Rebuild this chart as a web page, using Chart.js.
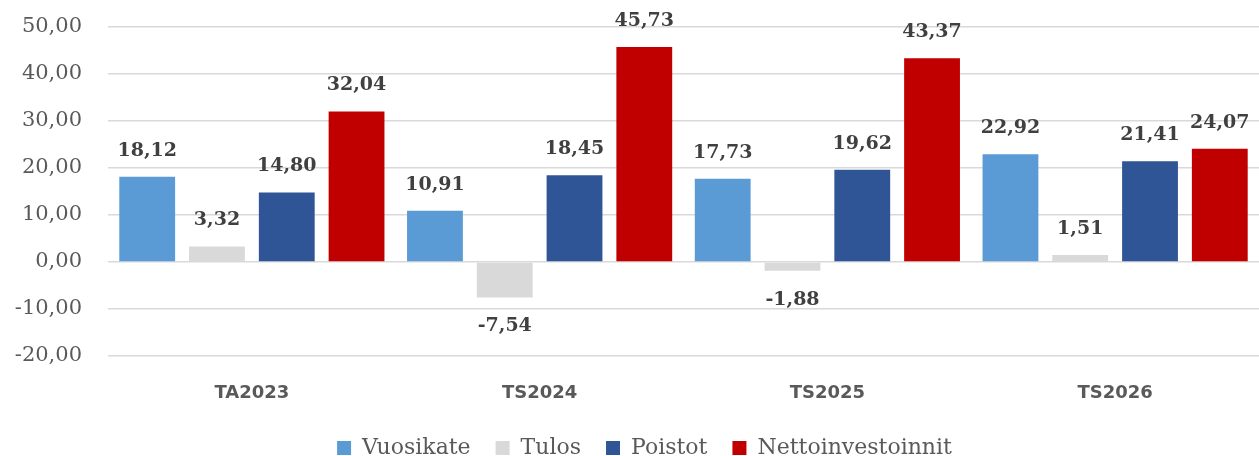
<!DOCTYPE html>
<html>
<head>
<meta charset="utf-8">
<script src="https://cdn.jsdelivr.net/npm/chart.js@4/dist/chart.umd.min.js"></script>
<style>
  html, body { margin: 0; padding: 0; background: #fff; }
  #wrap { width: 1259px; height: 456px; }
</style>
</head>
<body>
<div id="wrap"><canvas id="chartTalous"></canvas></div>
<script>
const vuodet = ['TA2023', 'TS2024', 'TS2025', 'TS2026'];
const vuosikate = [18.12, 10.91, 17.73, 22.92];
const tulos = [3.32, -7.54, -1.88, 1.51];
const poistot = [14.80, 18.45, 19.62, 21.41];
const nettoinvestoinnit = [32.04, 45.73, 43.37, 24.07];

function muotoile(arvo) {
    return arvo.toFixed(2).replace('.', ',');
}

// arvot pylväiden päälle (negatiiviset alle)
const arvoTekstit = {
    id: 'arvoTekstit',
    afterDatasetsDraw(chart) {
        const ctx = chart.ctx;
        ctx.save();
        ctx.font = 'bold 19px "DejaVu Serif"';
        ctx.fillStyle = '#404040';
        ctx.textAlign = 'center';
        ctx.textBaseline = 'middle';
        chart.data.datasets.forEach((ds, i) => {
            const meta = chart.getDatasetMeta(i);
            meta.data.forEach((bar, j) => {
                const arvo = ds.data[j];
                const y = arvo >= 0 ? bar.y - 26 : bar.y + 29;
                ctx.fillText(muotoile(arvo), bar.x, y);
            });
        });
        ctx.restore();
    }
};

// selite matalammaksi ja vähän oikealle
const seliteAlas = {
    id: 'seliteAlas',
    beforeInit(chart) {
        const legend = chart.legend;
        const fit = legend.fit;
        const draw = legend.draw;
        legend.fit = function () {
            fit.call(this);
            this.height -= 18;
        };
        legend.draw = function () {
            const alaReuna = this.bottom;
            this.bottom += 10; // ettei leikkaus katkaise tekstiä
            this.ctx.save();
            this.ctx.translate(15, -5);
            draw.call(this);
            this.ctx.restore();
            this.bottom = alaReuna;
        };
    }
};

const ctx = document.getElementById('chartTalous');

new Chart(ctx, {
    type: 'bar',
    data: {
        labels: vuodet,
        datasets: [{
            label: 'Vuosikate',
            data: vuosikate,
            backgroundColor: '#5B9BD5'
        }, {
            label: 'Tulos',
            data: tulos,
            backgroundColor: '#D9D9D9'
        }, {
            label: 'Poistot',
            data: poistot,
            backgroundColor: '#2F5597'
        }, {
            label: 'Nettoinvestoinnit',
            data: nettoinvestoinnit,
            backgroundColor: '#C00000'
        }]
    },
    plugins: [arvoTekstit, seliteAlas],
    options: {
        responsive: true,
        maintainAspectRatio: false,
        animation: false,
        categoryPercentage: 0.97,
        barPercentage: 0.8,
        layout: {
            padding: { top: 27, right: 0, left: 0, bottom: 0 }
        },
        plugins: {
            tooltip: { enabled: false },
            legend: {
                position: 'bottom',
                labels: {
                    boxWidth: 14,
                    boxHeight: 14,
                    padding: 25,
                    color: '#595959',
                    font: { family: 'DejaVu Serif', size: 22 }
                }
            }
        },
        scales: {
            x: {
                grid: { display: false, drawTicks: false },
                border: { display: false },
                ticks: {
                    padding: 27,
                    color: '#595959',
                    font: { family: 'DejaVu Sans', size: 18, weight: 'bold' }
                },
                afterFit(scale) {
                    scale.height = 61;
                }
            },
            y: {
                min: -20,
                max: 50,
                grid: { color: '#D9D9D9', lineWidth: 1.5, drawTicks: false },
                border: { display: false },
                ticks: {
                    stepSize: 10,
                    padding: 26,
                    color: '#595959',
                    font: { family: 'DejaVu Serif', size: 21 },
                    callback: (v) => muotoile(v)
                },
                afterFit(scale) {
                    scale.width = 108;
                    scale.paddingTop = 0;
                    scale.paddingBottom = 0;
                }
            }
        }
    }
});
</script>
</body>
</html>
